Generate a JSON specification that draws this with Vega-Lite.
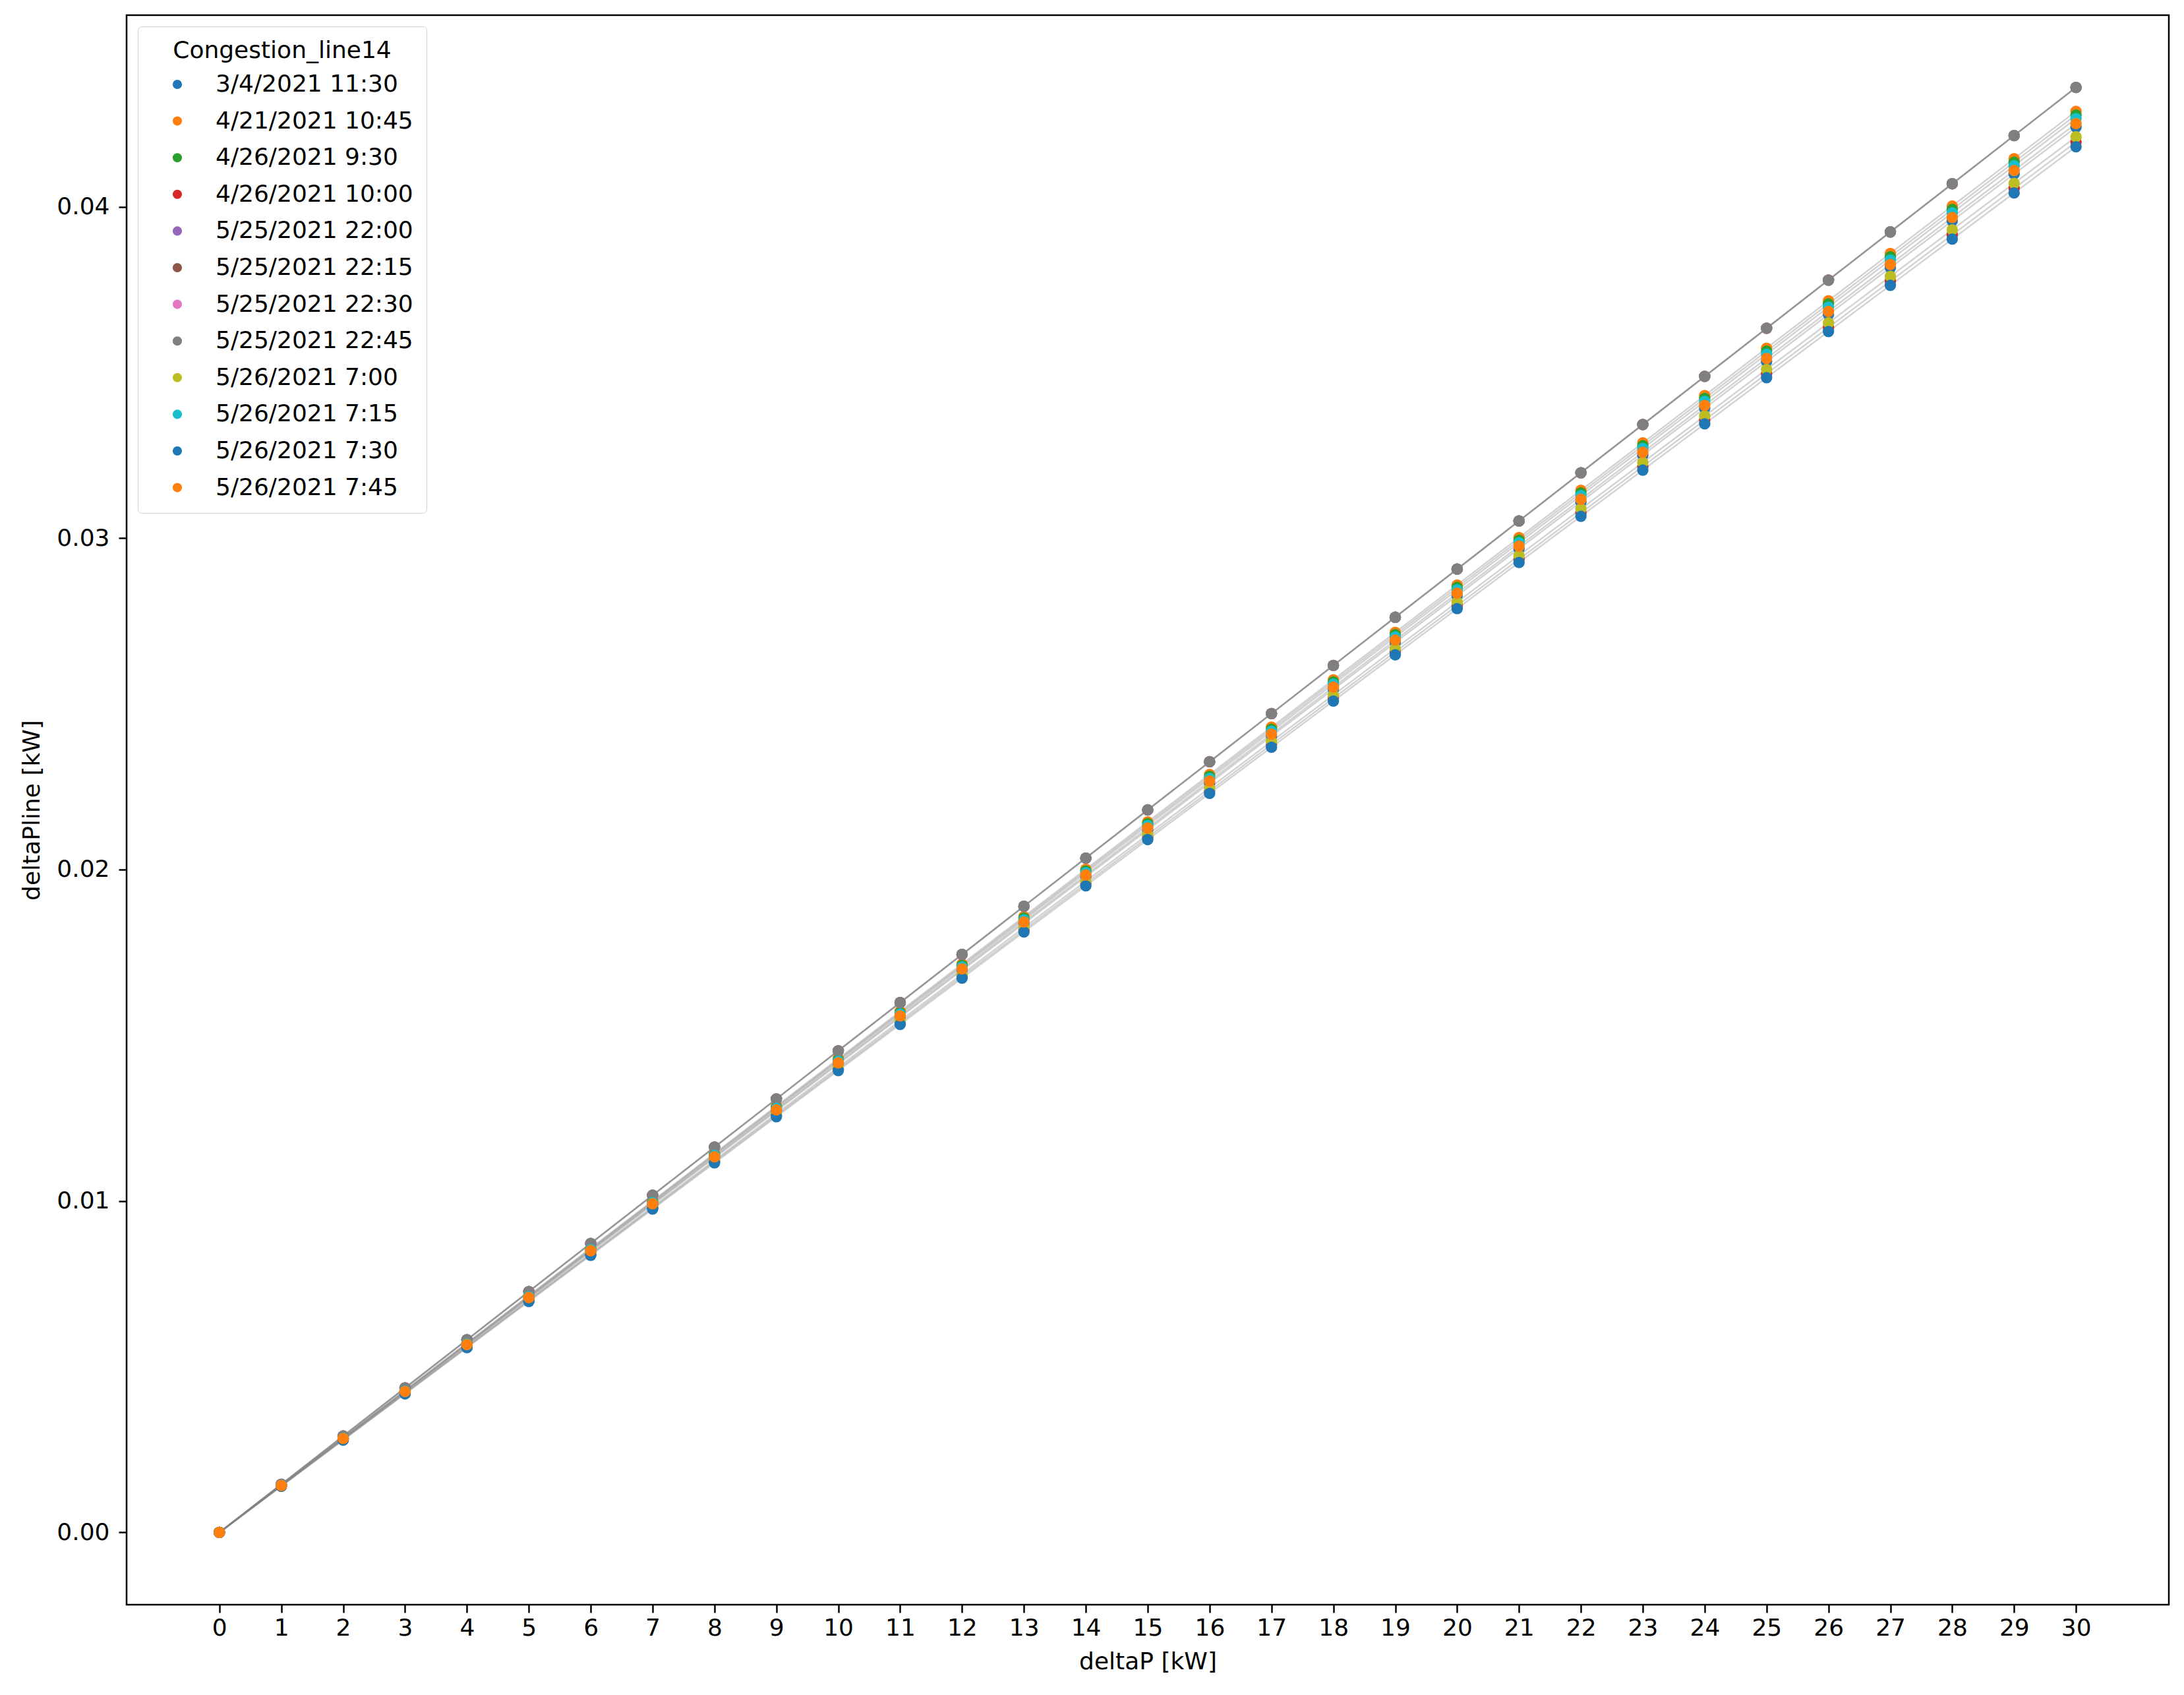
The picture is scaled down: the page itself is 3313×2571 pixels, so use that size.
{
"$schema": "https://vega.github.io/schema/vega-lite/v6.json",
"width": 3098, "height": 2411,
"autosize": {"type": "none"},
"padding": {"left": 192, "top": 23, "right": 23, "bottom": 137},
"background": "white",
"config": {"view": {"stroke": "black", "strokeWidth": 2.5}, "font": "DejaVu Sans"},
"datasets": {"d": [
{"s":"3/4/2021 11:30","x":0,"y":0},{"s":"3/4/2021 11:30","x":1,"y":0.001413},{"s":"3/4/2021 11:30","x":2,"y":0.002827},{"s":"3/4/2021 11:30","x":3,"y":0.00424},{"s":"3/4/2021 11:30","x":4,"y":0.005653},{"s":"3/4/2021 11:30","x":5,"y":0.007067},{"s":"3/4/2021 11:30","x":6,"y":0.00848},{"s":"3/4/2021 11:30","x":7,"y":0.009893},{"s":"3/4/2021 11:30","x":8,"y":0.011307},{"s":"3/4/2021 11:30","x":9,"y":0.01272},{"s":"3/4/2021 11:30","x":10,"y":0.014133},{"s":"3/4/2021 11:30","x":11,"y":0.015547},{"s":"3/4/2021 11:30","x":12,"y":0.01696},{"s":"3/4/2021 11:30","x":13,"y":0.018373},{"s":"3/4/2021 11:30","x":14,"y":0.019787},{"s":"3/4/2021 11:30","x":15,"y":0.0212},{"s":"3/4/2021 11:30","x":16,"y":0.022613},{"s":"3/4/2021 11:30","x":17,"y":0.024027},{"s":"3/4/2021 11:30","x":18,"y":0.02544},{"s":"3/4/2021 11:30","x":19,"y":0.026853},{"s":"3/4/2021 11:30","x":20,"y":0.028267},{"s":"3/4/2021 11:30","x":21,"y":0.02968},{"s":"3/4/2021 11:30","x":22,"y":0.031093},{"s":"3/4/2021 11:30","x":23,"y":0.032507},{"s":"3/4/2021 11:30","x":24,"y":0.03392},{"s":"3/4/2021 11:30","x":25,"y":0.035333},{"s":"3/4/2021 11:30","x":26,"y":0.036747},{"s":"3/4/2021 11:30","x":27,"y":0.03816},{"s":"3/4/2021 11:30","x":28,"y":0.039573},{"s":"3/4/2021 11:30","x":29,"y":0.040987},{"s":"3/4/2021 11:30","x":30,"y":0.0424},
{"s":"4/21/2021 10:45","x":0,"y":0},{"s":"4/21/2021 10:45","x":1,"y":0.001429},{"s":"4/21/2021 10:45","x":2,"y":0.002859},{"s":"4/21/2021 10:45","x":3,"y":0.004288},{"s":"4/21/2021 10:45","x":4,"y":0.005717},{"s":"4/21/2021 10:45","x":5,"y":0.007147},{"s":"4/21/2021 10:45","x":6,"y":0.008576},{"s":"4/21/2021 10:45","x":7,"y":0.010005},{"s":"4/21/2021 10:45","x":8,"y":0.011435},{"s":"4/21/2021 10:45","x":9,"y":0.012864},{"s":"4/21/2021 10:45","x":10,"y":0.014293},{"s":"4/21/2021 10:45","x":11,"y":0.015723},{"s":"4/21/2021 10:45","x":12,"y":0.017152},{"s":"4/21/2021 10:45","x":13,"y":0.018581},{"s":"4/21/2021 10:45","x":14,"y":0.020011},{"s":"4/21/2021 10:45","x":15,"y":0.02144},{"s":"4/21/2021 10:45","x":16,"y":0.022869},{"s":"4/21/2021 10:45","x":17,"y":0.024299},{"s":"4/21/2021 10:45","x":18,"y":0.025728},{"s":"4/21/2021 10:45","x":19,"y":0.027157},{"s":"4/21/2021 10:45","x":20,"y":0.028587},{"s":"4/21/2021 10:45","x":21,"y":0.030016},{"s":"4/21/2021 10:45","x":22,"y":0.031445},{"s":"4/21/2021 10:45","x":23,"y":0.032875},{"s":"4/21/2021 10:45","x":24,"y":0.034304},{"s":"4/21/2021 10:45","x":25,"y":0.035733},{"s":"4/21/2021 10:45","x":26,"y":0.037163},{"s":"4/21/2021 10:45","x":27,"y":0.038592},{"s":"4/21/2021 10:45","x":28,"y":0.040021},{"s":"4/21/2021 10:45","x":29,"y":0.041451},{"s":"4/21/2021 10:45","x":30,"y":0.04288},
{"s":"4/26/2021 9:30","x":0,"y":0},{"s":"4/26/2021 9:30","x":1,"y":0.001426},{"s":"4/26/2021 9:30","x":2,"y":0.002851},{"s":"4/26/2021 9:30","x":3,"y":0.004277},{"s":"4/26/2021 9:30","x":4,"y":0.005703},{"s":"4/26/2021 9:30","x":5,"y":0.007128},{"s":"4/26/2021 9:30","x":6,"y":0.008554},{"s":"4/26/2021 9:30","x":7,"y":0.00998},{"s":"4/26/2021 9:30","x":8,"y":0.011405},{"s":"4/26/2021 9:30","x":9,"y":0.012831},{"s":"4/26/2021 9:30","x":10,"y":0.014257},{"s":"4/26/2021 9:30","x":11,"y":0.015682},{"s":"4/26/2021 9:30","x":12,"y":0.017108},{"s":"4/26/2021 9:30","x":13,"y":0.018534},{"s":"4/26/2021 9:30","x":14,"y":0.019959},{"s":"4/26/2021 9:30","x":15,"y":0.021385},{"s":"4/26/2021 9:30","x":16,"y":0.022811},{"s":"4/26/2021 9:30","x":17,"y":0.024236},{"s":"4/26/2021 9:30","x":18,"y":0.025662},{"s":"4/26/2021 9:30","x":19,"y":0.027088},{"s":"4/26/2021 9:30","x":20,"y":0.028513},{"s":"4/26/2021 9:30","x":21,"y":0.029939},{"s":"4/26/2021 9:30","x":22,"y":0.031365},{"s":"4/26/2021 9:30","x":23,"y":0.03279},{"s":"4/26/2021 9:30","x":24,"y":0.034216},{"s":"4/26/2021 9:30","x":25,"y":0.035642},{"s":"4/26/2021 9:30","x":26,"y":0.037067},{"s":"4/26/2021 9:30","x":27,"y":0.038493},{"s":"4/26/2021 9:30","x":28,"y":0.039919},{"s":"4/26/2021 9:30","x":29,"y":0.041344},{"s":"4/26/2021 9:30","x":30,"y":0.04277},
{"s":"4/26/2021 10:00","x":0,"y":0},{"s":"4/26/2021 10:00","x":1,"y":0.001398},{"s":"4/26/2021 10:00","x":2,"y":0.002797},{"s":"4/26/2021 10:00","x":3,"y":0.004195},{"s":"4/26/2021 10:00","x":4,"y":0.005593},{"s":"4/26/2021 10:00","x":5,"y":0.006992},{"s":"4/26/2021 10:00","x":6,"y":0.00839},{"s":"4/26/2021 10:00","x":7,"y":0.009788},{"s":"4/26/2021 10:00","x":8,"y":0.011187},{"s":"4/26/2021 10:00","x":9,"y":0.012585},{"s":"4/26/2021 10:00","x":10,"y":0.013983},{"s":"4/26/2021 10:00","x":11,"y":0.015382},{"s":"4/26/2021 10:00","x":12,"y":0.01678},{"s":"4/26/2021 10:00","x":13,"y":0.018178},{"s":"4/26/2021 10:00","x":14,"y":0.019577},{"s":"4/26/2021 10:00","x":15,"y":0.020975},{"s":"4/26/2021 10:00","x":16,"y":0.022373},{"s":"4/26/2021 10:00","x":17,"y":0.023772},{"s":"4/26/2021 10:00","x":18,"y":0.02517},{"s":"4/26/2021 10:00","x":19,"y":0.026568},{"s":"4/26/2021 10:00","x":20,"y":0.027967},{"s":"4/26/2021 10:00","x":21,"y":0.029365},{"s":"4/26/2021 10:00","x":22,"y":0.030763},{"s":"4/26/2021 10:00","x":23,"y":0.032162},{"s":"4/26/2021 10:00","x":24,"y":0.03356},{"s":"4/26/2021 10:00","x":25,"y":0.034958},{"s":"4/26/2021 10:00","x":26,"y":0.036357},{"s":"4/26/2021 10:00","x":27,"y":0.037755},{"s":"4/26/2021 10:00","x":28,"y":0.039153},{"s":"4/26/2021 10:00","x":29,"y":0.040552},{"s":"4/26/2021 10:00","x":30,"y":0.04195},
{"s":"5/25/2021 22:00","x":0,"y":0},{"s":"5/25/2021 22:00","x":1,"y":0.001453},{"s":"5/25/2021 22:00","x":2,"y":0.002907},{"s":"5/25/2021 22:00","x":3,"y":0.00436},{"s":"5/25/2021 22:00","x":4,"y":0.005813},{"s":"5/25/2021 22:00","x":5,"y":0.007267},{"s":"5/25/2021 22:00","x":6,"y":0.00872},{"s":"5/25/2021 22:00","x":7,"y":0.010173},{"s":"5/25/2021 22:00","x":8,"y":0.011627},{"s":"5/25/2021 22:00","x":9,"y":0.01308},{"s":"5/25/2021 22:00","x":10,"y":0.014533},{"s":"5/25/2021 22:00","x":11,"y":0.015987},{"s":"5/25/2021 22:00","x":12,"y":0.01744},{"s":"5/25/2021 22:00","x":13,"y":0.018893},{"s":"5/25/2021 22:00","x":14,"y":0.020347},{"s":"5/25/2021 22:00","x":15,"y":0.0218},{"s":"5/25/2021 22:00","x":16,"y":0.023253},{"s":"5/25/2021 22:00","x":17,"y":0.024707},{"s":"5/25/2021 22:00","x":18,"y":0.02616},{"s":"5/25/2021 22:00","x":19,"y":0.027613},{"s":"5/25/2021 22:00","x":20,"y":0.029067},{"s":"5/25/2021 22:00","x":21,"y":0.03052},{"s":"5/25/2021 22:00","x":22,"y":0.031973},{"s":"5/25/2021 22:00","x":23,"y":0.033427},{"s":"5/25/2021 22:00","x":24,"y":0.03488},{"s":"5/25/2021 22:00","x":25,"y":0.036333},{"s":"5/25/2021 22:00","x":26,"y":0.037787},{"s":"5/25/2021 22:00","x":27,"y":0.03924},{"s":"5/25/2021 22:00","x":28,"y":0.040693},{"s":"5/25/2021 22:00","x":29,"y":0.042147},{"s":"5/25/2021 22:00","x":30,"y":0.0436},
{"s":"5/25/2021 22:15","x":0,"y":0},{"s":"5/25/2021 22:15","x":1,"y":0.001453},{"s":"5/25/2021 22:15","x":2,"y":0.002907},{"s":"5/25/2021 22:15","x":3,"y":0.00436},{"s":"5/25/2021 22:15","x":4,"y":0.005813},{"s":"5/25/2021 22:15","x":5,"y":0.007267},{"s":"5/25/2021 22:15","x":6,"y":0.00872},{"s":"5/25/2021 22:15","x":7,"y":0.010173},{"s":"5/25/2021 22:15","x":8,"y":0.011627},{"s":"5/25/2021 22:15","x":9,"y":0.01308},{"s":"5/25/2021 22:15","x":10,"y":0.014533},{"s":"5/25/2021 22:15","x":11,"y":0.015987},{"s":"5/25/2021 22:15","x":12,"y":0.01744},{"s":"5/25/2021 22:15","x":13,"y":0.018893},{"s":"5/25/2021 22:15","x":14,"y":0.020347},{"s":"5/25/2021 22:15","x":15,"y":0.0218},{"s":"5/25/2021 22:15","x":16,"y":0.023253},{"s":"5/25/2021 22:15","x":17,"y":0.024707},{"s":"5/25/2021 22:15","x":18,"y":0.02616},{"s":"5/25/2021 22:15","x":19,"y":0.027613},{"s":"5/25/2021 22:15","x":20,"y":0.029067},{"s":"5/25/2021 22:15","x":21,"y":0.03052},{"s":"5/25/2021 22:15","x":22,"y":0.031973},{"s":"5/25/2021 22:15","x":23,"y":0.033427},{"s":"5/25/2021 22:15","x":24,"y":0.03488},{"s":"5/25/2021 22:15","x":25,"y":0.036333},{"s":"5/25/2021 22:15","x":26,"y":0.037787},{"s":"5/25/2021 22:15","x":27,"y":0.03924},{"s":"5/25/2021 22:15","x":28,"y":0.040693},{"s":"5/25/2021 22:15","x":29,"y":0.042147},{"s":"5/25/2021 22:15","x":30,"y":0.0436},
{"s":"5/25/2021 22:30","x":0,"y":0},{"s":"5/25/2021 22:30","x":1,"y":0.001453},{"s":"5/25/2021 22:30","x":2,"y":0.002907},{"s":"5/25/2021 22:30","x":3,"y":0.00436},{"s":"5/25/2021 22:30","x":4,"y":0.005813},{"s":"5/25/2021 22:30","x":5,"y":0.007267},{"s":"5/25/2021 22:30","x":6,"y":0.00872},{"s":"5/25/2021 22:30","x":7,"y":0.010173},{"s":"5/25/2021 22:30","x":8,"y":0.011627},{"s":"5/25/2021 22:30","x":9,"y":0.01308},{"s":"5/25/2021 22:30","x":10,"y":0.014533},{"s":"5/25/2021 22:30","x":11,"y":0.015987},{"s":"5/25/2021 22:30","x":12,"y":0.01744},{"s":"5/25/2021 22:30","x":13,"y":0.018893},{"s":"5/25/2021 22:30","x":14,"y":0.020347},{"s":"5/25/2021 22:30","x":15,"y":0.0218},{"s":"5/25/2021 22:30","x":16,"y":0.023253},{"s":"5/25/2021 22:30","x":17,"y":0.024707},{"s":"5/25/2021 22:30","x":18,"y":0.02616},{"s":"5/25/2021 22:30","x":19,"y":0.027613},{"s":"5/25/2021 22:30","x":20,"y":0.029067},{"s":"5/25/2021 22:30","x":21,"y":0.03052},{"s":"5/25/2021 22:30","x":22,"y":0.031973},{"s":"5/25/2021 22:30","x":23,"y":0.033427},{"s":"5/25/2021 22:30","x":24,"y":0.03488},{"s":"5/25/2021 22:30","x":25,"y":0.036333},{"s":"5/25/2021 22:30","x":26,"y":0.037787},{"s":"5/25/2021 22:30","x":27,"y":0.03924},{"s":"5/25/2021 22:30","x":28,"y":0.040693},{"s":"5/25/2021 22:30","x":29,"y":0.042147},{"s":"5/25/2021 22:30","x":30,"y":0.0436},
{"s":"5/25/2021 22:45","x":0,"y":0},{"s":"5/25/2021 22:45","x":1,"y":0.001453},{"s":"5/25/2021 22:45","x":2,"y":0.002907},{"s":"5/25/2021 22:45","x":3,"y":0.00436},{"s":"5/25/2021 22:45","x":4,"y":0.005813},{"s":"5/25/2021 22:45","x":5,"y":0.007267},{"s":"5/25/2021 22:45","x":6,"y":0.00872},{"s":"5/25/2021 22:45","x":7,"y":0.010173},{"s":"5/25/2021 22:45","x":8,"y":0.011627},{"s":"5/25/2021 22:45","x":9,"y":0.01308},{"s":"5/25/2021 22:45","x":10,"y":0.014533},{"s":"5/25/2021 22:45","x":11,"y":0.015987},{"s":"5/25/2021 22:45","x":12,"y":0.01744},{"s":"5/25/2021 22:45","x":13,"y":0.018893},{"s":"5/25/2021 22:45","x":14,"y":0.020347},{"s":"5/25/2021 22:45","x":15,"y":0.0218},{"s":"5/25/2021 22:45","x":16,"y":0.023253},{"s":"5/25/2021 22:45","x":17,"y":0.024707},{"s":"5/25/2021 22:45","x":18,"y":0.02616},{"s":"5/25/2021 22:45","x":19,"y":0.027613},{"s":"5/25/2021 22:45","x":20,"y":0.029067},{"s":"5/25/2021 22:45","x":21,"y":0.03052},{"s":"5/25/2021 22:45","x":22,"y":0.031973},{"s":"5/25/2021 22:45","x":23,"y":0.033427},{"s":"5/25/2021 22:45","x":24,"y":0.03488},{"s":"5/25/2021 22:45","x":25,"y":0.036333},{"s":"5/25/2021 22:45","x":26,"y":0.037787},{"s":"5/25/2021 22:45","x":27,"y":0.03924},{"s":"5/25/2021 22:45","x":28,"y":0.040693},{"s":"5/25/2021 22:45","x":29,"y":0.042147},{"s":"5/25/2021 22:45","x":30,"y":0.0436},
{"s":"5/26/2021 7:00","x":0,"y":0},{"s":"5/26/2021 7:00","x":1,"y":0.001404},{"s":"5/26/2021 7:00","x":2,"y":0.002807},{"s":"5/26/2021 7:00","x":3,"y":0.004211},{"s":"5/26/2021 7:00","x":4,"y":0.005615},{"s":"5/26/2021 7:00","x":5,"y":0.007018},{"s":"5/26/2021 7:00","x":6,"y":0.008422},{"s":"5/26/2021 7:00","x":7,"y":0.009826},{"s":"5/26/2021 7:00","x":8,"y":0.011229},{"s":"5/26/2021 7:00","x":9,"y":0.012633},{"s":"5/26/2021 7:00","x":10,"y":0.014037},{"s":"5/26/2021 7:00","x":11,"y":0.01544},{"s":"5/26/2021 7:00","x":12,"y":0.016844},{"s":"5/26/2021 7:00","x":13,"y":0.018248},{"s":"5/26/2021 7:00","x":14,"y":0.019651},{"s":"5/26/2021 7:00","x":15,"y":0.021055},{"s":"5/26/2021 7:00","x":16,"y":0.022459},{"s":"5/26/2021 7:00","x":17,"y":0.023862},{"s":"5/26/2021 7:00","x":18,"y":0.025266},{"s":"5/26/2021 7:00","x":19,"y":0.02667},{"s":"5/26/2021 7:00","x":20,"y":0.028073},{"s":"5/26/2021 7:00","x":21,"y":0.029477},{"s":"5/26/2021 7:00","x":22,"y":0.030881},{"s":"5/26/2021 7:00","x":23,"y":0.032284},{"s":"5/26/2021 7:00","x":24,"y":0.033688},{"s":"5/26/2021 7:00","x":25,"y":0.035092},{"s":"5/26/2021 7:00","x":26,"y":0.036495},{"s":"5/26/2021 7:00","x":27,"y":0.037899},{"s":"5/26/2021 7:00","x":28,"y":0.039303},{"s":"5/26/2021 7:00","x":29,"y":0.040706},{"s":"5/26/2021 7:00","x":30,"y":0.04211},
{"s":"5/26/2021 7:15","x":0,"y":0},{"s":"5/26/2021 7:15","x":1,"y":0.001422},{"s":"5/26/2021 7:15","x":2,"y":0.002844},{"s":"5/26/2021 7:15","x":3,"y":0.004266},{"s":"5/26/2021 7:15","x":4,"y":0.005688},{"s":"5/26/2021 7:15","x":5,"y":0.00711},{"s":"5/26/2021 7:15","x":6,"y":0.008532},{"s":"5/26/2021 7:15","x":7,"y":0.009954},{"s":"5/26/2021 7:15","x":8,"y":0.011376},{"s":"5/26/2021 7:15","x":9,"y":0.012798},{"s":"5/26/2021 7:15","x":10,"y":0.01422},{"s":"5/26/2021 7:15","x":11,"y":0.015642},{"s":"5/26/2021 7:15","x":12,"y":0.017064},{"s":"5/26/2021 7:15","x":13,"y":0.018486},{"s":"5/26/2021 7:15","x":14,"y":0.019908},{"s":"5/26/2021 7:15","x":15,"y":0.02133},{"s":"5/26/2021 7:15","x":16,"y":0.022752},{"s":"5/26/2021 7:15","x":17,"y":0.024174},{"s":"5/26/2021 7:15","x":18,"y":0.025596},{"s":"5/26/2021 7:15","x":19,"y":0.027018},{"s":"5/26/2021 7:15","x":20,"y":0.02844},{"s":"5/26/2021 7:15","x":21,"y":0.029862},{"s":"5/26/2021 7:15","x":22,"y":0.031284},{"s":"5/26/2021 7:15","x":23,"y":0.032706},{"s":"5/26/2021 7:15","x":24,"y":0.034128},{"s":"5/26/2021 7:15","x":25,"y":0.03555},{"s":"5/26/2021 7:15","x":26,"y":0.036972},{"s":"5/26/2021 7:15","x":27,"y":0.038394},{"s":"5/26/2021 7:15","x":28,"y":0.039816},{"s":"5/26/2021 7:15","x":29,"y":0.041238},{"s":"5/26/2021 7:15","x":30,"y":0.04266},
{"s":"5/26/2021 7:30","x":0,"y":0},{"s":"5/26/2021 7:30","x":1,"y":0.001394},{"s":"5/26/2021 7:30","x":2,"y":0.002787},{"s":"5/26/2021 7:30","x":3,"y":0.004181},{"s":"5/26/2021 7:30","x":4,"y":0.005575},{"s":"5/26/2021 7:30","x":5,"y":0.006968},{"s":"5/26/2021 7:30","x":6,"y":0.008362},{"s":"5/26/2021 7:30","x":7,"y":0.009756},{"s":"5/26/2021 7:30","x":8,"y":0.011149},{"s":"5/26/2021 7:30","x":9,"y":0.012543},{"s":"5/26/2021 7:30","x":10,"y":0.013937},{"s":"5/26/2021 7:30","x":11,"y":0.01533},{"s":"5/26/2021 7:30","x":12,"y":0.016724},{"s":"5/26/2021 7:30","x":13,"y":0.018118},{"s":"5/26/2021 7:30","x":14,"y":0.019511},{"s":"5/26/2021 7:30","x":15,"y":0.020905},{"s":"5/26/2021 7:30","x":16,"y":0.022299},{"s":"5/26/2021 7:30","x":17,"y":0.023692},{"s":"5/26/2021 7:30","x":18,"y":0.025086},{"s":"5/26/2021 7:30","x":19,"y":0.02648},{"s":"5/26/2021 7:30","x":20,"y":0.027873},{"s":"5/26/2021 7:30","x":21,"y":0.029267},{"s":"5/26/2021 7:30","x":22,"y":0.030661},{"s":"5/26/2021 7:30","x":23,"y":0.032054},{"s":"5/26/2021 7:30","x":24,"y":0.033448},{"s":"5/26/2021 7:30","x":25,"y":0.034842},{"s":"5/26/2021 7:30","x":26,"y":0.036235},{"s":"5/26/2021 7:30","x":27,"y":0.037629},{"s":"5/26/2021 7:30","x":28,"y":0.039023},{"s":"5/26/2021 7:30","x":29,"y":0.040416},{"s":"5/26/2021 7:30","x":30,"y":0.04181},
{"s":"5/26/2021 7:45","x":0,"y":0},{"s":"5/26/2021 7:45","x":1,"y":0.001417},{"s":"5/26/2021 7:45","x":2,"y":0.002834},{"s":"5/26/2021 7:45","x":3,"y":0.004251},{"s":"5/26/2021 7:45","x":4,"y":0.005668},{"s":"5/26/2021 7:45","x":5,"y":0.007085},{"s":"5/26/2021 7:45","x":6,"y":0.008502},{"s":"5/26/2021 7:45","x":7,"y":0.009919},{"s":"5/26/2021 7:45","x":8,"y":0.011336},{"s":"5/26/2021 7:45","x":9,"y":0.012753},{"s":"5/26/2021 7:45","x":10,"y":0.01417},{"s":"5/26/2021 7:45","x":11,"y":0.015587},{"s":"5/26/2021 7:45","x":12,"y":0.017004},{"s":"5/26/2021 7:45","x":13,"y":0.018421},{"s":"5/26/2021 7:45","x":14,"y":0.019838},{"s":"5/26/2021 7:45","x":15,"y":0.021255},{"s":"5/26/2021 7:45","x":16,"y":0.022672},{"s":"5/26/2021 7:45","x":17,"y":0.024089},{"s":"5/26/2021 7:45","x":18,"y":0.025506},{"s":"5/26/2021 7:45","x":19,"y":0.026923},{"s":"5/26/2021 7:45","x":20,"y":0.02834},{"s":"5/26/2021 7:45","x":21,"y":0.029757},{"s":"5/26/2021 7:45","x":22,"y":0.031174},{"s":"5/26/2021 7:45","x":23,"y":0.032591},{"s":"5/26/2021 7:45","x":24,"y":0.034008},{"s":"5/26/2021 7:45","x":25,"y":0.035425},{"s":"5/26/2021 7:45","x":26,"y":0.036842},{"s":"5/26/2021 7:45","x":27,"y":0.038259},{"s":"5/26/2021 7:45","x":28,"y":0.039676},{"s":"5/26/2021 7:45","x":29,"y":0.041093},{"s":"5/26/2021 7:45","x":30,"y":0.04251}
]},
"data": {"name": "d"},
"encoding": {
  "x": {"field": "x", "type": "quantitative",
    "scale": {"domain": [-1.5, 31.5], "nice": false, "zero": false},
    "axis": {"values": [0,1,2,3,4,5,6,7,8,9,10,11,12,13,14,15,16,17,18,19,20,21,22,23,24,25,26,27,28,29,30],
      "format": "d", "title": "deltaP [kW]", "grid": false, "domain": false,
      "labelFontSize": 36, "titleFontSize": 36, "titleFontWeight": "normal",
      "labelColor": "black", "titleColor": "black", "tickColor": "black",
      "tickSize": 12, "tickWidth": 2.5, "labelPadding": 6, "titlePadding": 16}},
  "y": {"field": "y", "type": "quantitative",
    "scale": {"domain": [-0.00218, 0.04578], "nice": false, "zero": false},
    "axis": {"values": [0, 0.01, 0.02, 0.03, 0.04], "format": ".2f",
      "title": "deltaPline [kW]", "grid": false, "domain": false,
      "labelFontSize": 36, "titleFontSize": 36, "titleFontWeight": "normal",
      "labelColor": "black", "titleColor": "black", "tickColor": "black",
      "tickSize": 12, "tickWidth": 2.5, "labelPadding": 14, "titlePadding": 18}}
},
"layer": [
  {"mark": {"type": "line", "color": "gray", "opacity": 0.35, "strokeWidth": 2.5},
   "encoding": {"detail": {"field": "s"}}},
  {"mark": {"type": "circle", "size": 300, "opacity": 1},
   "encoding": {"color": {"field": "s", "type": "nominal",
     "scale": {"domain": ["3/4/2021 11:30","4/21/2021 10:45","4/26/2021 9:30","4/26/2021 10:00","5/25/2021 22:00","5/25/2021 22:15","5/25/2021 22:30","5/25/2021 22:45","5/26/2021 7:00","5/26/2021 7:15","5/26/2021 7:30","5/26/2021 7:45"],
       "range": ["#1f77b4","#ff7f0e","#2ca02c","#d62728","#9467bd","#8c564b","#e377c2","#7f7f7f","#bcbd22","#17becf","#1f77b4","#ff7f0e"]},
     "legend": {"orient": "top-left", "offset": 17, "title": "Congestion_line14",
       "titleFontSize": 36, "labelFontSize": 36, "titleFontWeight": "normal",
       "titleColor": "black", "labelColor": "black", "symbolType": "circle",
       "symbolSize": 200, "rowPadding": 19.6, "padding": 20, "strokeColor": "#d0d0d0",
       "cornerRadius": 6, "fillColor": "white",
       "labelOffset": 40, "symbolOffset": 22, "titleAnchor": "middle", "titlePadding": 14,
       "labelLimit": 600, "titleLimit": 1000}}}}
]
}
